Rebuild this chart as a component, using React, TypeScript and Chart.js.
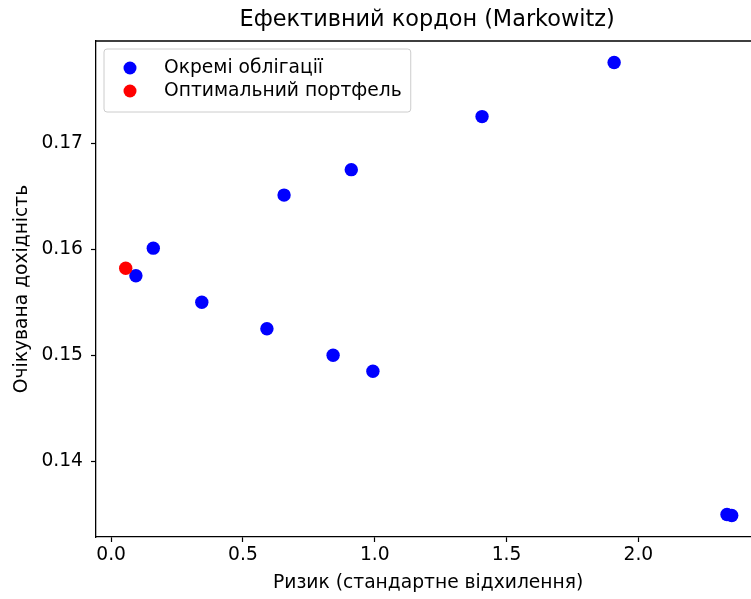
import React, { useEffect, useRef } from "react";
import { Chart, registerables } from "chart.js";

Chart.register(...registerables);

const chartTitle = "Ефективний кордон (Markowitz)";
const xAxisLabel = "Ризик (стандартне відхилення)";
const yAxisLabel = "Очікувана дохідність";

const bondsLabel = "Окремі облігації";
const optimalLabel = "Оптимальний портфель";

const bondRisk = [0.094, 0.160, 0.344, 0.591, 0.656, 0.911, 0.842, 0.993, 1.407, 1.908, 2.336, 2.354];
const bondReturn = [0.1575, 0.1601, 0.1550, 0.1525, 0.1651, 0.1675, 0.1500, 0.1485, 0.1725, 0.1776, 0.1350, 0.1349];

const optimalRisk = [0.0554];
const optimalReturn = [0.1582];

const xMin = -0.0573;
const xMax = 2.47;
const yMin = 0.132875;
const yMax = 0.179625;

const FONT = "'DejaVu Sans', sans-serif";
const FS = 18.7;
const TITLE_FS = 22.4;

const decorPlugin = {
  id: "decor",
  afterDatasetsDraw(chart: any) {
    const { ctx, chartArea } = chart;
    const { left, right, top, bottom } = chartArea;
    ctx.save();
    ctx.strokeStyle = "#000";
    ctx.lineWidth = 1.3;
    ctx.beginPath();
    ctx.moveTo(left, top);
    ctx.lineTo(right, top);
    ctx.lineTo(right, bottom);
    ctx.stroke();

    const items = [
      { label: bondsLabel, color: "#0000ff" },
      { label: optimalLabel, color: "#ff0000" },
    ];
    ctx.font = `${FS}px ${FONT}`;
    let maxW = 0;
    items.forEach((it) => {
      maxW = Math.max(maxW, ctx.measureText(it.label).width);
    });
    const bx = left + 8;
    const by = top + 8;
    const bw = 60 + maxW + 9;
    const bh = 63;
    ctx.beginPath();
    const r = 3;
    ctx.moveTo(bx + r, by);
    ctx.lineTo(bx + bw - r, by);
    ctx.arcTo(bx + bw, by, bx + bw, by + r, r);
    ctx.lineTo(bx + bw, by + bh - r);
    ctx.arcTo(bx + bw, by + bh, bx + bw - r, by + bh, r);
    ctx.lineTo(bx + r, by + bh);
    ctx.arcTo(bx, by + bh, bx, by + bh - r, r);
    ctx.lineTo(bx, by + r);
    ctx.arcTo(bx, by, bx + r, by, r);
    ctx.closePath();
    ctx.fillStyle = "rgba(255,255,255,0.8)";
    ctx.fill();
    ctx.strokeStyle = "#cccccc";
    ctx.lineWidth = 1;
    ctx.stroke();

    items.forEach((it, i) => {
      const cy = by + 19 + i * 23;
      ctx.beginPath();
      ctx.fillStyle = it.color;
      ctx.arc(bx + 26, cy, 6.5, 0, Math.PI * 2);
      ctx.fill();
      ctx.fillStyle = "#000";
      ctx.textAlign = "left";
      ctx.textBaseline = "middle";
      ctx.fillText(it.label, bx + 60, cy);
    });
    ctx.restore();
  },
  afterDraw(chart: any) {
    const { ctx, chartArea } = chart;
    const { left, right, top, bottom } = chartArea;
    const cx = (left + right) / 2;
    const cy = (top + bottom) / 2;
    ctx.save();
    ctx.fillStyle = "#000";
    ctx.textAlign = "center";
    ctx.textBaseline = "middle";
    ctx.font = `${TITLE_FS}px ${FONT}`;
    ctx.fillText(chartTitle, cx - 2, 20);
    ctx.font = `${FS}px ${FONT}`;
    ctx.fillText(xAxisLabel, cx - 1, 583);
    ctx.translate(22, cy);
    ctx.rotate(-Math.PI / 2);
    ctx.fillText(yAxisLabel, 0, 0);
    ctx.restore();
  },
};

export default function App() {
  const ref = useRef<HTMLCanvasElement | null>(null);
  useEffect(() => {
    if (!ref.current) return;
    const chart = new Chart(ref.current, {
      type: "scatter",
      data: {
        datasets: [
          {
            label: bondsLabel,
            data: bondRisk.map((x, i) => ({ x, y: bondReturn[i] })),
            backgroundColor: "#0000ff",
            borderWidth: 0,
            pointRadius: 6.7,
            pointHoverRadius: 6.7,
            order: 1,
          },
          {
            label: optimalLabel,
            data: optimalRisk.map((x, i) => ({ x, y: optimalReturn[i] })),
            backgroundColor: "#ff0000",
            borderWidth: 0,
            pointRadius: 6.7,
            pointHoverRadius: 6.7,
            order: 0,
          },
        ],
      },
      options: {
        animation: false,
        responsive: false,
        devicePixelRatio: 1,
        layout: { padding: { left: 0, top: 41, right: 2, bottom: 0 } },
        plugins: {
          legend: { display: false },
          tooltip: { enabled: false },
          title: { display: false },
        },
        scales: {
          x: {
            type: "linear",
            min: xMin,
            max: xMax,
            afterFit: (s: any) => {
              s.height = 62;
            },
            grid: {
              drawOnChartArea: false,
              drawTicks: true,
              tickLength: 5,
              tickColor: "#000",
              tickWidth: 1.2,
            },
            border: { display: true, color: "#000", width: 1.3 },
            ticks: {
              stepSize: 0.5,
              includeBounds: false,
              autoSkip: false,
              maxRotation: 0,
              padding: 2,
              color: "#000",
              font: { family: FONT, size: FS },
              callback: (v: any) => Number(v).toFixed(1),
            },
          },
          y: {
            type: "linear",
            min: yMin,
            max: yMax,
            afterFit: (s: any) => {
              s.width = 96;
            },
            grid: {
              drawOnChartArea: false,
              drawTicks: true,
              tickLength: 5,
              tickColor: "#000",
              tickWidth: 1.2,
            },
            border: { display: true, color: "#000", width: 1.3 },
            ticks: {
              stepSize: 0.01,
              includeBounds: false,
              autoSkip: false,
              padding: 8,
              color: "#000",
              font: { family: FONT, size: FS },
              callback: (v: any) => Number(v).toFixed(2),
            },
          },
        },
      },
      plugins: [decorPlugin],
    });
    return () => chart.destroy();
  }, []);
  return (
    <div
      style={{
        position: "absolute",
        left: 0,
        top: 0,
        width: 751,
        height: 599,
        overflow: "hidden",
        background: "#fff",
      }}
    >
      <canvas ref={ref} width={769} height={599} style={{ width: 769, height: 599, display: "block" }} />
    </div>
  );
}
